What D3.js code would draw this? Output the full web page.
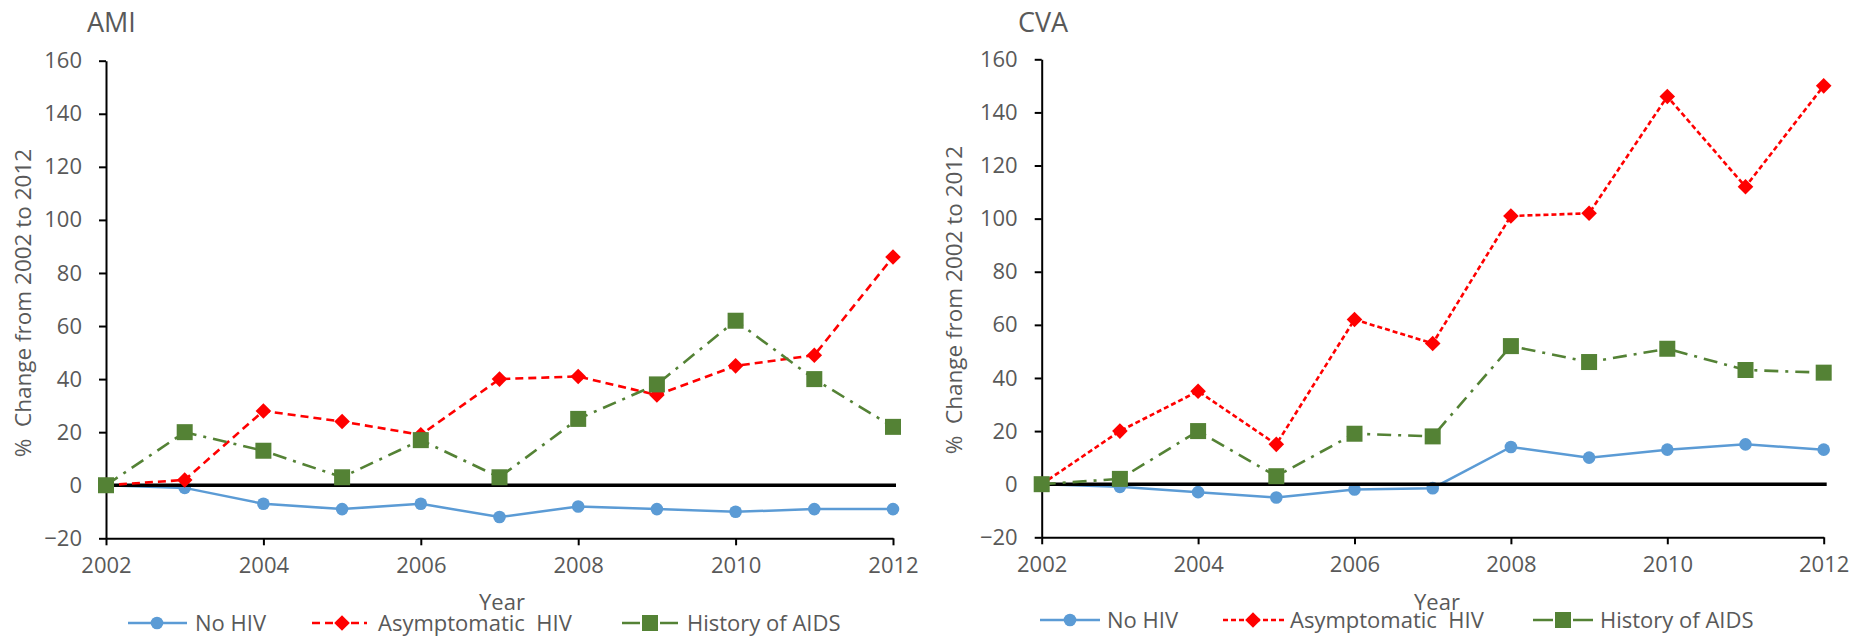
<!DOCTYPE html>
<html>
<head>
<meta charset="utf-8">
<script src="https://cdn.jsdelivr.net/npm/d3@7"></script>
<style>
  html, body { margin: 0; padding: 0; background: #fff; }
  svg { display: block; }
  text { font-family: "Open Sans", sans-serif; fill: #595959; }
</style>
</head>
<body>
<svg id="chart" width="1855" height="636"></svg>
<script>
// ---- Data ----
const years = [2002, 2003, 2004, 2005, 2006, 2007, 2008, 2009, 2010, 2011, 2012];
const xTickValues = [2002, 2004, 2006, 2008, 2010, 2012];
const yTickValues = [-20, 0, 20, 40, 60, 80, 100, 120, 140, 160];

const amiNoHIV = [0, -1, -7, -9, -7, -12, -8, -9, -10, -9, -9];
const amiAsym  = [0, 2, 28, 24, 19, 40, 41, 34, 45, 49, 86];
const amiAIDS  = [0, 20, 13, 3, 17, 3, 25, 38, 62, 40, 22];

const cvaNoHIV = [0, -1, -3, -5, -2, -1.5, 14, 10, 13, 15, 13];
const cvaAsym  = [0, 20, 35, 15, 62, 53, 101, 102, 146, 112, 150];
const cvaAIDS  = [0, 2, 20, 3, 19, 18, 52, 46, 51, 43, 42];

const seriesNames = ["No HIV", "Asymptomatic  HIV", "History of AIDS"];
const panelTitles = ["AMI", "CVA"];
const yAxisTitle = "%  Change from 2002 to 2012";
const xAxisTitle = "Year";

// ---- Layout / style ----
const svg = d3.select("#chart");
const colors = { blue: "#5B9BD5", red: "#FF0000", green: "#548235" };

const panels = [
  { title: panelTitles[0], data: [amiNoHIV, amiAsym, amiAIDS],
    x0: 106, x1: 893, yTop: 60.7, yBot: 538.3,
    titleX: 87, titleY: 32, yTitleX: 31, yTitleY: 303, yearX: 502,
    redDash: "8,5", legendY: 623,
    legend: [ {l0:128,l1:187,m:157,t:195}, {l0:312,l1:367,m:342,t:378}, {l0:622,l1:680,m:650,t:687} ] },
  { title: panelTitles[1], data: [cvaNoHIV, cvaAsym, cvaAIDS],
    x0: 1041.7, x1: 1823.7, yTop: 59.3, yBot: 537.3,
    titleX: 1018, titleY: 32, yTitleX: 962, yTitleY: 300, yearX: 1437,
    redDash: "5,3", legendY: 620,
    legend: [ {l0:1040,l1:1100,m:1070,t:1107}, {l0:1223,l1:1287,m:1253,t:1290}, {l0:1533,l1:1593,m:1563,t:1600} ] }
];

function drawMarker(g, type, cx, cy) {
  if (type === 0) {
    g.append("circle").attr("cx", cx).attr("cy", cy).attr("r", 6.3).attr("fill", colors.blue);
  } else if (type === 1) {
    const s = 7.8;
    g.append("path").attr("d", `M${cx},${cy - s}L${cx + s},${cy}L${cx},${cy + s}L${cx - s},${cy}Z`).attr("fill", colors.red);
  } else {
    const s = 8;
    g.append("rect").attr("x", cx - s).attr("y", cy - s).attr("width", 2 * s).attr("height", 2 * s).attr("fill", colors.green);
  }
}

panels.forEach(p => {
  const x = d3.scaleLinear().domain([2002, 2012]).range([p.x0, p.x1]);
  const y = d3.scaleLinear().domain([-20, 160]).range([p.yBot, p.yTop]);
  const g = svg.append("g");

  // title
  g.append("text").attr("x", p.titleX).attr("y", p.titleY).attr("font-size", 27).text(p.title);

  // y axis
  const yAxis = d3.axisLeft(y).tickValues(yTickValues).tickSize(7).tickSizeOuter(0).tickPadding(17);
  const ya = g.append("g").attr("transform", `translate(${p.x0},0)`).call(yAxis);
  ya.select(".domain").attr("stroke", "#000").attr("stroke-width", 2);
  ya.selectAll(".tick line").attr("stroke", "#000").attr("stroke-width", 2);
  ya.selectAll(".tick text").attr("font-size", 22).attr("font-family", "Open Sans").attr("fill", "#595959");

  // x axis at bottom
  const xAxis = d3.axisBottom(x).tickValues(xTickValues).tickFormat(d3.format("d")).tickSize(7).tickSizeOuter(0).tickPadding(12);
  const xa = g.append("g").attr("transform", `translate(0,${p.yBot})`).call(xAxis);
  xa.select(".domain").attr("stroke", "#000").attr("stroke-width", 2);
  xa.selectAll(".tick line").attr("stroke", "#000").attr("stroke-width", 2);
  xa.selectAll(".tick text").attr("font-size", 22).attr("font-family", "Open Sans").attr("fill", "#595959");

  // y axis title
  g.append("text")
    .attr("transform", `translate(${p.yTitleX},${p.yTitleY}) rotate(-90)`)
    .attr("text-anchor", "middle").attr("font-size", 22.5)
    .style("white-space", "pre").text(yAxisTitle);

  // x axis title
  g.append("text").attr("x", p.yearX).attr("y", 610).attr("text-anchor", "middle").attr("font-size", 22).text(xAxisTitle);

  const line = d3.line().x((d, i) => x(years[i])).y(d => y(d));

  // No HIV series
  g.append("path").datum(p.data[0]).attr("d", line).attr("fill", "none")
    .attr("stroke", colors.blue).attr("stroke-width", 2.5);
  p.data[0].forEach((v, i) => drawMarker(g, 0, x(years[i]), y(v)));

  // zero line
  g.append("line").attr("x1", x(2002)).attr("x2", x(2012) + 3).attr("y1", y(0)).attr("y2", y(0))
    .attr("stroke", "#000").attr("stroke-width", 3.4);

  // Asymptomatic HIV series
  g.append("path").datum(p.data[1]).attr("d", line).attr("fill", "none")
    .attr("stroke", colors.red).attr("stroke-width", 2.6).attr("stroke-dasharray", p.redDash);
  p.data[1].forEach((v, i) => drawMarker(g, 1, x(years[i]), y(v)));

  // History of AIDS series
  g.append("path").datum(p.data[2]).attr("d", line).attr("fill", "none")
    .attr("stroke", colors.green).attr("stroke-width", 2.6).attr("stroke-dasharray", "14,7,3,7");
  p.data[2].forEach((v, i) => drawMarker(g, 2, x(years[i]), y(v)));

  // legend
  const ly = p.legendY;
  const lg = g.append("g");
  const dashes = [null, p.redDash, "14,6"];
  const lcolors = [colors.blue, colors.red, colors.green];
  p.legend.forEach((L, k) => {
    const ln = lg.append("line").attr("x1", L.l0).attr("x2", L.l1).attr("y1", ly).attr("y2", ly)
      .attr("stroke", lcolors[k]).attr("stroke-width", 2.6);
    if (dashes[k]) ln.attr("stroke-dasharray", dashes[k]);
    if (k === 2) {
      ln.attr("stroke-dasharray", `${L.m - L.l0 - 10},20`);
    }
    drawMarker(lg, k, L.m, ly);
    lg.append("text").attr("x", L.t).attr("y", ly).attr("dy", "0.36em").attr("font-size", 22)
      .style("white-space", "pre").text(seriesNames[k]);
  });
});
</script>
</body>
</html>
